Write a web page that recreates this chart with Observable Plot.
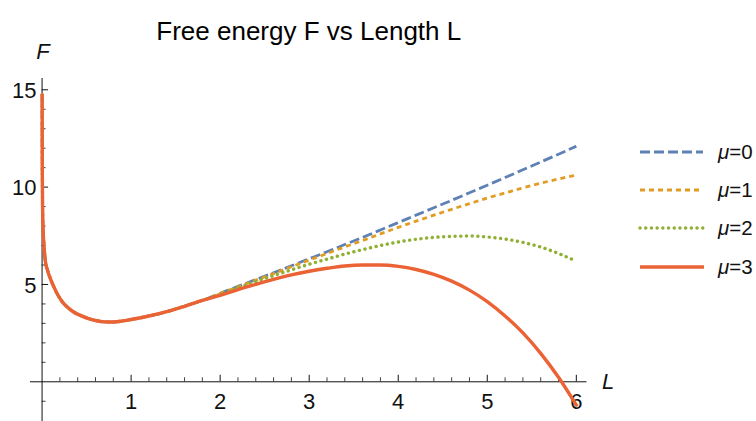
<!DOCTYPE html>
<html>
<head>
<meta charset="utf-8">
<script src="https://cdn.jsdelivr.net/npm/d3@7"></script>
<script src="https://cdn.jsdelivr.net/npm/@observablehq/plot@0.6"></script>
<style>
  html, body { margin: 0; padding: 0; background: #fff; }
  #wrap { position: relative; width: 756px; height: 421px; font-family: "Liberation Sans", Arial, Helvetica, sans-serif; }
  #legend { position: absolute; left: 638px; top: 0; }
  .row { position: absolute; left: 0; width: 118px; height: 30px; }
  .row svg { position: absolute; left: 0; top: 0; }
  .row span { position: absolute; left: 80px; top: 3px; font-size: 20.5px; line-height: 24px; color: #111; white-space: nowrap; }
</style>
</head>
<body>
<div id="wrap"><div id="legend"></div></div>
<script>
// ---- data ----
const title = "Free energy F vs Length L";
const muLabels = ["0", "1", "2", "3"];
const colors = ["#5E81B5", "#E19C24", "#8FB032", "#EB6235"];

// shared part of all curves (L < 2)
const commonL = [0.0008, 0.0015, 0.003, 0.006, 0.011, 0.02, 0.037, 0.06, 0.093, 0.13, 0.17, 0.22, 0.28, 0.35, 0.43, 0.52, 0.6, 0.7, 0.8, 0.9, 1.0, 1.2, 1.4, 1.6, 1.8];
const commonF = [14.75, 12.5, 10.5, 8.9, 7.9, 7.1, 6.2, 5.75, 5.3, 4.9, 4.52, 4.15, 3.85, 3.6, 3.41, 3.25, 3.15, 3.08, 3.07, 3.12, 3.2, 3.38, 3.6, 3.88, 4.18];

// branches for L >= 2
const tailL = [2.0, 2.2, 2.4, 2.6, 2.8, 3.0, 3.2, 3.4, 3.6, 3.8, 4.0, 4.2, 4.4, 4.6, 4.8, 5.0, 5.2, 5.4, 5.6, 5.8, 6.0];
const F_mu0 = [4.55, 4.9, 5.25, 5.6, 5.96, 6.32, 6.68, 7.05, 7.42, 7.8, 8.18, 8.56, 8.94, 9.32, 9.71, 10.1, 10.49, 10.89, 11.29, 11.69, 12.1];
const F_mu1 = [4.54, 4.88, 5.22, 5.56, 5.91, 6.25, 6.59, 6.93, 7.26, 7.6, 7.93, 8.25, 8.56, 8.86, 9.15, 9.44, 9.7, 9.96, 10.2, 10.42, 10.62];
const F_mu2 = [4.5, 4.83, 5.14, 5.45, 5.75, 6.04, 6.3, 6.56, 6.79, 7.0, 7.18, 7.32, 7.42, 7.47, 7.49, 7.44, 7.33, 7.16, 6.92, 6.59, 6.19];
const F_mu3 = [4.44, 4.74, 5.01, 5.26, 5.49, 5.68, 5.83, 5.95, 6.0, 6.0, 5.93, 5.77, 5.52, 5.17, 4.71, 4.12, 3.38, 2.51, 1.46, 0.23, -1.2];

// ticks
const xMajor = [1, 2, 3, 4, 5, 6];
const xMinor = [0.2, 0.4, 0.6, 0.8, 1.2, 1.4, 1.6, 1.8, 2.2, 2.4, 2.6, 2.8, 3.2, 3.4, 3.6, 3.8, 4.2, 4.4, 4.6, 4.8, 5.2, 5.4, 5.6, 5.8];
const yMajor = [5, 10, 15];
const yMinor = [-1, 1, 2, 3, 4, 6, 7, 8, 9, 11, 12, 13, 14];

// ---- build table ----
const tails = [F_mu0, F_mu1, F_mu2, F_mu3];
const rows = [];
tails.forEach((tail, k) => {
  commonL.forEach((L, i) => rows.push({mu: muLabels[k], L, F: commonF[i]}));
  tailL.forEach((L, i) => rows.push({mu: muLabels[k], L, F: tail[i]}));
});
const series = k => rows.filter(d => d.mu === muLabels[k]);

const styles = [
  {strokeWidth: 2.8, strokeDasharray: "10,4", strokeLinecap: "butt"},
  {strokeWidth: 2.8, strokeDasharray: "5,4", strokeLinecap: "butt"},
  {strokeWidth: 3.4, strokeDasharray: "0.1,5.6", strokeLinecap: "round"},
  {strokeWidth: 3.4}
];

const font = "'Liberation Sans', Arial, Helvetica, sans-serif";
const axisColor = "#111";

const chart = Plot.plot({
  width: 756,
  height: 421,
  marginLeft: 30,
  marginRight: 169.5,
  marginTop: 78,
  marginBottom: 0,
  style: {fontFamily: font, background: "white", overflow: "visible"},
  x: {domain: [-0.13, 6.12], axis: null},
  y: {domain: [-2.04, 15.58], axis: null},
  marks: [
    // axes through the origin
    Plot.ruleY([0], {stroke: axisColor, strokeWidth: 1}),
    Plot.ruleX([0], {stroke: axisColor, strokeWidth: 1}),
    // x ticks (pointing up)
    Plot.ruleX(xMajor, {x: d => d, y1: () => 0, y2: () => 0, insetTop: -6.5, stroke: axisColor, strokeWidth: 1}),
    Plot.ruleX(xMinor, {x: d => d, y1: () => 0, y2: () => 0, insetTop: -4, stroke: axisColor, strokeWidth: 0.8}),
    // y ticks (pointing right)
    Plot.ruleY(yMajor, {y: d => d, x1: () => 0, x2: () => 0, insetRight: -6.5, stroke: axisColor, strokeWidth: 1}),
    Plot.ruleY(yMinor, {y: d => d, x1: () => 0, x2: () => 0, insetRight: -4, stroke: axisColor, strokeWidth: 0.8}),
    // tick labels
    Plot.text(xMajor, {x: d => d, y: () => 0, text: d => String(d), dy: 20.5, fontSize: 22, fill: axisColor}),
    Plot.text(yMajor, {x: () => 0, y: d => d, text: d => String(d), textAnchor: "end", dx: -5.5, dy: 1, fontSize: 22, fill: axisColor}),
    // axis labels
    Plot.text(["F"], {x: () => 0, y: () => 15.58, text: d => d, dy: -27, dx: 1, fontSize: 22, fontStyle: "italic", fill: axisColor}),
    Plot.text(["L"], {x: () => 6.12, y: () => 0, text: d => d, textAnchor: "start", dx: 15, dy: 0, fontSize: 22, fontStyle: "italic", fill: axisColor}),
    // title
    Plot.text([title], {frameAnchor: "top", text: d => d, dy: -57, fontSize: 26, fill: "#000"}),
    // curves
    ...[0, 1, 2, 3].map(k => Plot.line(series(k), {x: "L", y: "F", stroke: colors[k], curve: "monotone-x", ...styles[k]}))
  ]
});
document.getElementById("wrap").prepend(chart);

// legend
const legendTops = [152.3, 190.2, 228.3, 266.7];
const leg = document.getElementById("legend");
muLabels.forEach((m, k) => {
  const row = document.createElement("div");
  row.className = "row";
  row.style.top = (legendTops[k] - 15) + "px";
  const st = styles[k];
  const x2 = k >= 2 ? 66 : 65;
  row.innerHTML =
    `<svg width="70" height="30"><line x1="2" x2="${x2}" y1="15" y2="15" stroke="${colors[k]}" stroke-width="${st.strokeWidth}"` +
    (st.strokeDasharray ? ` stroke-dasharray="${st.strokeDasharray}"` : "") +
    ` stroke-linecap="${st.strokeLinecap || "butt"}"/></svg>` +
    `<span><i>μ</i>=${m}</span>`;
  leg.appendChild(row);
});
</script>
</body>
</html>
